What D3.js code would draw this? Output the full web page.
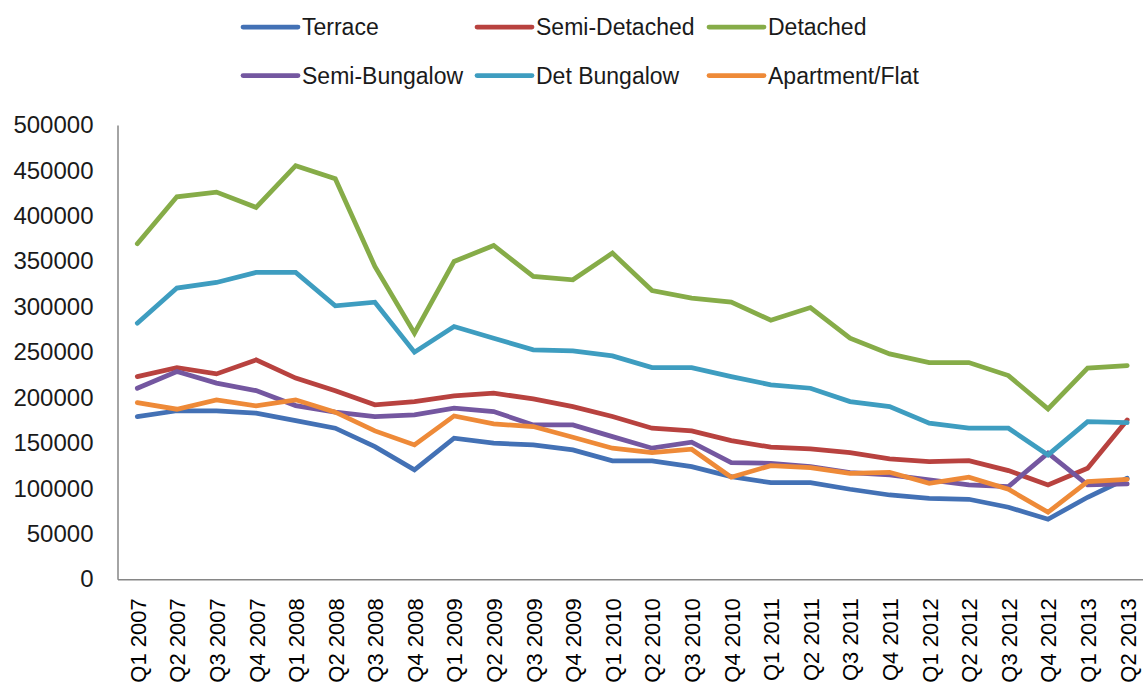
<!DOCTYPE html>
<html>
<head>
<meta charset="utf-8">
<script src="https://cdn.jsdelivr.net/npm/d3@7/dist/d3.min.js"></script>
<style>
  html, body { margin: 0; padding: 0; background: #fff; }
  svg { display: block; }
</style>
</head>
<body>
<svg id="chart" width="1143" height="686"></svg>
<script>
const quarters = ["Q1 2007","Q2 2007","Q3 2007","Q4 2007","Q1 2008","Q2 2008","Q3 2008","Q4 2008",
  "Q1 2009","Q2 2009","Q3 2009","Q4 2009","Q1 2010","Q2 2010","Q3 2010","Q4 2010",
  "Q1 2011","Q2 2011","Q3 2011","Q4 2011","Q1 2012","Q2 2012","Q3 2012","Q4 2012","Q1 2013","Q2 2013"];

const terrace = [179000,185500,185500,182800,174700,166300,146000,120400,
  155300,149800,147900,142400,130300,130300,124000,113000,
  106400,106400,99100,92800,89200,88100,79300,66100,90300,111200];
const semiDetached = [223100,233000,226100,241500,221400,207400,192000,195600,
  201900,204800,198600,190100,179100,166300,163300,152700,
  145400,143500,139400,132500,129500,130600,119600,103900,122200,175400];
const detached = [369300,421000,426200,409300,455200,440900,344300,270900,
  349800,367400,333300,329600,359000,317800,309500,305100,
  285200,299100,265400,248100,238500,238500,224200,187500,232400,235200];
const semiBungalow = [210300,228700,215900,207700,191200,183900,179100,180900,
  188300,184600,169900,169900,157000,144300,150900,128400,
  127700,124000,117400,114900,109400,103900,102000,138800,103900,105000];
const detBungalow = [281900,320500,326700,337700,337700,301000,305000,250000,
  278200,265400,252500,251400,245900,233000,233000,223100,
  214000,210300,195600,190100,171800,166300,166300,136900,173600,172500];
const apartmentFlat = [194500,187200,197500,190900,197500,183900,163300,147900,
  179800,171000,168100,156400,144300,139400,143200,112300,
  125100,122900,116700,117800,105700,112300,99100,73800,107500,110100];

const seriesNames = ["Terrace","Semi-Detached","Detached","Semi-Bungalow","Det Bungalow","Apartment/Flat"];
const seriesValues = [terrace, semiDetached, detached, semiBungalow, detBungalow, apartmentFlat];
const seriesColors = ["#4371B5","#B8423F","#86AC48","#7457A0","#3E9DC0","#EE8A38"];
const yTicks = [0,50000,100000,150000,200000,250000,300000,350000,400000,450000,500000];

(function () {
const svg = d3.select("#chart");
const plotLeft = 117.5, plotRight = 1147, plotTop = 125, plotBottom = 579.3;

const x = d3.scalePoint().domain(quarters).range([plotLeft, plotRight]).padding(0.5);
const y = d3.scaleLinear().domain([0, 500000]).range([plotBottom, plotTop]);

// Y axis
const yAxis = svg.append("g")
  .attr("transform", `translate(${plotLeft},0)`)
  .call(d3.axisLeft(y).tickValues(yTicks).tickSize(0).tickSizeOuter(0).tickPadding(24).tickFormat(d3.format("d")));
yAxis.select(".domain").attr("stroke", "#868686").attr("stroke-width", 1.5);
yAxis.selectAll("text")
  .attr("font-family", "'Liberation Sans', Arial, sans-serif")
  .attr("font-size", 24)
  .attr("fill", "#1a1a1a");

// X axis
const xAxis = svg.append("g")
  .attr("transform", `translate(0,${plotBottom})`)
  .call(d3.axisBottom(x).tickSize(0).tickSizeOuter(0).tickPadding(0));
xAxis.select(".domain").attr("stroke", "#868686").attr("stroke-width", 1.5);
xAxis.selectAll("text")
  .attr("font-family", "'Liberation Sans', Arial, sans-serif")
  .attr("font-size", 22)
  .attr("fill", "#000")
  .attr("text-anchor", "end")
  .attr("transform", "rotate(-90)")
  .attr("x", -19)
  .attr("y", 0)
  .attr("dy", "0.36em");

// Lines
const line = d3.line().x((d, i) => x(quarters[i])).y(d => y(d));
seriesValues.forEach((vals, k) => {
  svg.append("path")
    .datum(vals)
    .attr("d", line)
    .attr("fill", "none")
    .attr("stroke", seriesColors[k])
    .attr("stroke-width", 4.75)
    .attr("stroke-linejoin", "miter")
    .attr("stroke-miterlimit", 4)
    .attr("stroke-linecap", "round");
});

// Legend
const legX = [243, 477, 709];
const legY = [27, 75.5];
const legend = svg.append("g");
seriesNames.forEach((name, k) => {
  const col = k % 3, row = Math.floor(k / 3);
  const g = legend.append("g").attr("transform", `translate(${legX[col]},${legY[row]})`);
  g.append("line")
    .attr("x1", 0).attr("x2", 55).attr("y1", 0).attr("y2", 0)
    .attr("stroke", seriesColors[k]).attr("stroke-width", 4.75).attr("stroke-linecap", "round");
  g.append("text")
    .attr("x", 59).attr("y", 0).attr("dy", "0.36em")
    .attr("font-family", "'Liberation Sans', Arial, sans-serif")
    .attr("font-size", 23)
    .attr("fill", "#1a1a1a")
    .text(name);
});
})();
</script>
</body>
</html>
